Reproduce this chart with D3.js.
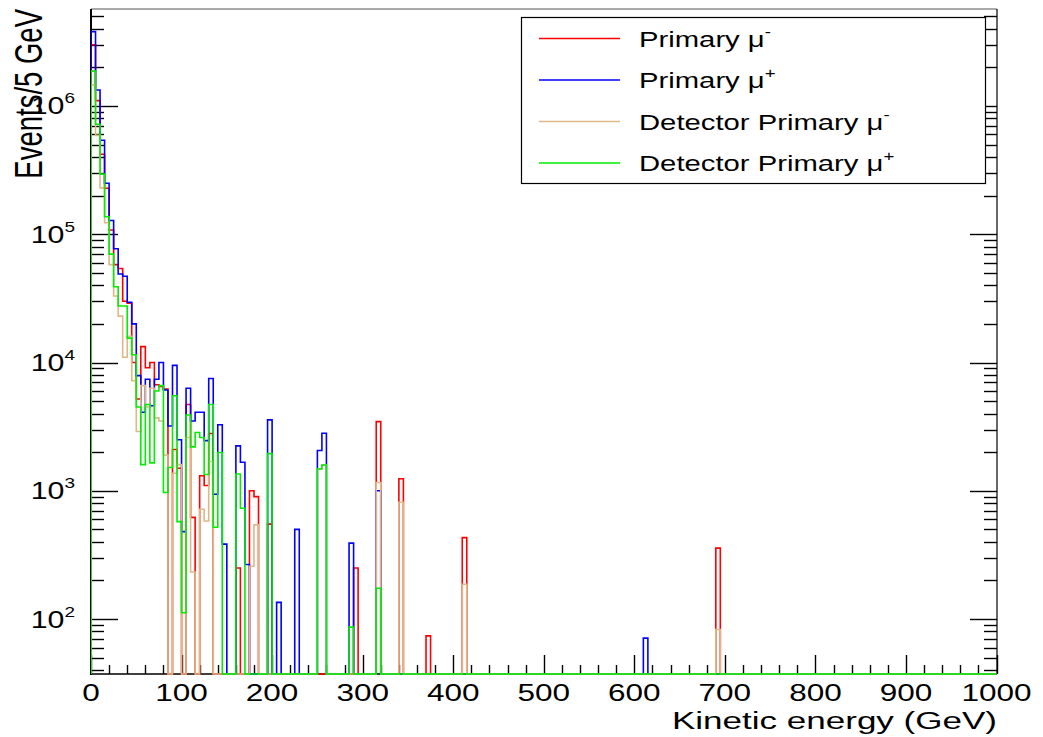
<!DOCTYPE html>
<html>
<head>
<meta charset="utf-8">
<script src="https://cdn.jsdelivr.net/npm/d3@7"></script>
<style>
  html, body { margin: 0; padding: 0; background: #ffffff; }
  svg { display: block; }
  text { font-family: "Liberation Sans", Arial, Helvetica, sans-serif; fill: #000; }
</style>
</head>
<body>
<svg id="chart" width="1043" height="737"></svg>
<script>
// Kinetic-energy spectra of primary muons, 5 GeV bins from 0 to 1000 GeV.
const binWidth = 5;
const nBins = 200;

// Counts per bin, bins 0..69 (0-350 GeV)
const primaryMuMinus = [
  3.0e6, 1.1e6, 4.2e5, 2.28e5, 1.08e5, 5.8e4, 5.4e4, 3.0e4, 2.9e4, 1.0e4,
  5.2e3, 1.33e4, 9.1e3, 1.0e4, 6.7e3, 6.5e3, 6.2e3, 0, 2.1e3, 1.5e3,
  0, 4.7e3, 620, 0, 1310, 1100, 2800, 0, 0, 0,
  0, 0, 250, 0, 0, 1000, 900, 0, 0, 550,
  0, 0, 0, 0, 0, 0, 0, 0, 0, 0,
  0, 0, 0, 0, 0, 0, 0, 0, 250, 0,
  0, 0, 0, 3460, 0, 0, 0, 0, 1240, 0
];
const primaryMuPlus = [
  3.8e6, 1.33e6, 5.4e5, 2.5e5, 1.28e5, 7.7e4, 4.9e4, 4.7e4, 2.95e4, 2.0e4,
  7.9e3, 4.1e3, 7.4e3, 4.6e3, 7.4e3, 1.0e4, 6.1e3, 3.2e3, 9.5e3, 2.5e3,
  480, 6.3e3, 3.5e3, 4.1e3, 4.1e3, 2460, 7.5e3, 940, 3270, 384,
  0, 0, 2240, 1670, 266, 0, 0, 0, 0, 3570,
  0, 135, 0, 0, 0, 500, 0, 0, 0, 0,
  2060, 2810, 0, 0, 0, 0, 0, 391, 0, 0,
  0, 0, 0, 1000, 0, 0, 0, 0, 0, 0
];
const detectorMuMinus = [
  1.46e6, 5.9e5, 2.3e5, 1.23e5, 5.8e4, 3.3e4, 2.3e4, 1.1e4, 1.6e4, 7.2e3,
  2.9e3, 6.6e3, 4.5e3, 6.3e3, 3.7e3, 3.5e3, 1.9e3, 0, 1370, 1600,
  0, 2.6e3, 233, 0, 718, 582, 1690, 0, 0, 0,
  0, 0, 0, 0, 0, 258, 542, 0, 0, 0,
  0, 0, 0, 0, 0, 0, 0, 0, 0, 0,
  1480, 1590, 0, 0, 0, 0, 0, 0, 0, 0,
  0, 0, 0, 1160, 0, 0, 0, 0, 815, 0
];
const detectorMuPlus = [
  1.87e6, 7.2e5, 2.94e5, 1.37e5, 7.0e4, 3.9e4, 2.76e4, 2.76e4, 1.55e4, 1.15e4,
  4.5e3, 1.6e3, 4.7e3, 1.65e3, 6.0e3, 6.6e3, 970, 1520, 5.5e3, 575,
  112, 3.9e3, 2.2e3, 2850, 2600, 1340, 4.7e3, 520, 1990, 0,
  0, 0, 1350, 731, 0, 0, 0, 0, 0, 1950,
  0, 0, 0, 0, 0, 0, 0, 0, 0, 0,
  1480, 1590, 0, 0, 0, 0, 0, 86.5, 0, 0,
  0, 0, 0, 174, 0, 0, 0, 0, 0, 0
];

// High-energy entries: [bin low edge in GeV, count]
const primaryMuMinusTail = [[370, 74], [410, 431], [690, 357]];
const primaryMuPlusTail = [[610, 71]];
const detectorMuMinusTail = [[410, 187], [690, 83]];
const detectorMuPlusTail = [];

const seriesNames = ["Primary \u03bc", "Primary \u03bc", "Detector Primary \u03bc", "Detector Primary \u03bc"];
const seriesCharges = ["-", "+", "-", "+"];
const seriesColors = ["#ff0000", "#0000ff", "#deb887", "#00ee00"];

const xTickValues = [0, 100, 200, 300, 400, 500, 600, 700, 800, 900, 1000];
const yDecades = [2, 3, 4, 5, 6];
const xTitle = "Kinetic energy (GeV)";
const yTitle = "Events/5 GeV";

// Full 200-bin arrays assembled from the dense part and the tail entries
function fullBins(dense, tail) {
  const out = new Array(nBins).fill(0);
  dense.forEach((v, i) => { out[i] = v; });
  tail.forEach(([e, n]) => { out[Math.round(e / binWidth)] = n; });
  return out;
}
const series = [
  fullBins(primaryMuMinus, primaryMuMinusTail),
  fullBins(primaryMuPlus, primaryMuPlusTail),
  fullBins(detectorMuMinus, detectorMuMinusTail),
  fullBins(detectorMuPlus, detectorMuPlusTail)
];

// ---- layout ----
const plot = { left: 91, right: 997, top: 9, bottom: 674 };
const sx = 1.33; // horizontal text stretch of the canvas

const x = d3.scaleLinear().domain([0, 1000]).range([plot.left, plot.right - 0.5]);
const y = d3.scaleLog().domain([37.3, 5.7e6]).range([plot.bottom, plot.top]);

const svg = d3.select("#chart");

svg.append("defs").append("clipPath").attr("id", "plotClip")
  .append("rect")
  .attr("x", plot.left).attr("y", plot.top - 1)
  .attr("width", plot.right - plot.left).attr("height", plot.bottom - plot.top + 2);

// frame
svg.append("line").attr("x1", plot.left).attr("x2", plot.right)
  .attr("y1", plot.top).attr("y2", plot.top)
  .attr("stroke", "#555").attr("stroke-width", 1);
svg.append("line").attr("x1", plot.right).attr("x2", plot.right)
  .attr("y1", plot.top).attr("y2", plot.bottom)
  .attr("stroke", "#000").attr("stroke-width", 1.2);

// log ticks (majors and 2..9 minors) on left and right
const yTicks = [];
for (let k = 1; k <= 6; k++) {
  for (let m = 1; m <= 9; m++) {
    const v = m * Math.pow(10, k);
    if (v >= y.domain()[0] && v <= y.domain()[1]) yTicks.push({ v, major: m === 1 });
  }
}
const gTicks = svg.append("g").attr("stroke", "#000").attr("stroke-width", 1.4);
yTicks.forEach(t => {
  const len = t.major ? 27 : 13;
  const yy = Math.round(y(t.v)) + 0.5;
  gTicks.append("line").attr("x1", plot.left).attr("x2", plot.left + len).attr("y1", yy).attr("y2", yy);
  gTicks.append("line").attr("x1", plot.right).attr("x2", plot.right - len).attr("y1", yy).attr("y2", yy);
});

// x ticks: majors every 100, minors every 20
for (let e = 0; e <= 1000; e += 20) {
  const major = e % 100 === 0;
  const xx = Math.round(x(e)) + 0.5;
  gTicks.append("line").attr("x1", xx).attr("x2", xx)
    .attr("y1", plot.bottom).attr("y2", plot.bottom - (major ? 19 : 9));
}

// axes lines
svg.append("line").attr("x1", plot.left).attr("x2", plot.left)
  .attr("y1", plot.top).attr("y2", plot.bottom + 1)
  .attr("stroke", "#000").attr("stroke-width", 2);
svg.append("line").attr("x1", plot.left).attr("x2", plot.right)
  .attr("y1", plot.bottom).attr("y2", plot.bottom)
  .attr("stroke", "#000").attr("stroke-width", 1.5);

// histogram outlines
const yClamp = v => (v > 0 ? Math.max(plot.top, Math.min(plot.bottom, y(v))) : plot.bottom);
function stepPath(vals) {
  const p = d3.path();
  p.moveTo(x(0), plot.bottom);
  vals.forEach((v, i) => {
    const yy = yClamp(v);
    p.lineTo(x(i * binWidth), yy);
    p.lineTo(x((i + 1) * binWidth), yy);
  });
  p.lineTo(x(nBins * binWidth), plot.bottom);
  return p.toString();
}
const gHist = svg.append("g").attr("clip-path", "url(#plotClip)");
series.forEach((vals, i) => {
  gHist.append("path")
    .attr("d", stepPath(vals))
    .attr("fill", "none")
    .attr("stroke", seriesColors[i])
    .attr("stroke-width", 1.6)
    .attr("stroke-linejoin", "miter");
});

// x tick labels
xTickValues.forEach(v => {
  svg.append("text")
    .attr("transform", `translate(${x(v)},701) scale(${sx * 1.03},1)`)
    .attr("text-anchor", "middle")
    .attr("font-size", 23)
    .text(v);
});

// y tick labels: 10^k
yDecades.forEach(k => {
  const t = svg.append("text")
    .attr("transform", `translate(75,${y(Math.pow(10, k)) + 8.5}) scale(${sx * 0.95},1)`)
    .attr("text-anchor", "end")
    .attr("font-size", 24);
  t.append("tspan").text("10");
  t.append("tspan").attr("dy", -11).attr("font-size", 15).text(k);
});

// axis titles
svg.append("text")
  .attr("transform", `translate(997,729) scale(1.43,1)`)
  .attr("text-anchor", "end")
  .attr("font-size", 24.5)
  .text(xTitle);
svg.append("text")
  .attr("transform", `translate(42,9) scale(1.42,1) rotate(-90)`)
  .attr("text-anchor", "end")
  .attr("font-size", 27.5)
  .text(yTitle);

// legend
const legend = { x: 521, y: 17, w: 464, h: 166 };
svg.append("rect")
  .attr("x", legend.x + 0.5).attr("y", legend.y + 0.5)
  .attr("width", legend.w).attr("height", legend.h)
  .attr("fill", "#fff").attr("stroke", "#000").attr("stroke-width", 1.2);
const rowY = [38.5, 80, 121.5, 163];
seriesNames.forEach((name, i) => {
  svg.append("line")
    .attr("x1", 539).attr("x2", 620)
    .attr("y1", rowY[i]).attr("y2", rowY[i])
    .attr("stroke", seriesColors[i]).attr("stroke-width", 1.3);
  const t = svg.append("text")
    .attr("transform", `translate(639,${rowY[i] + 8}) scale(${sx},1)`)
    .attr("font-size", 22);
  t.append("tspan").text(name);
  t.append("tspan").attr("dy", -10).attr("font-size", 14).text(seriesCharges[i]);
});
</script>
</body>
</html>
